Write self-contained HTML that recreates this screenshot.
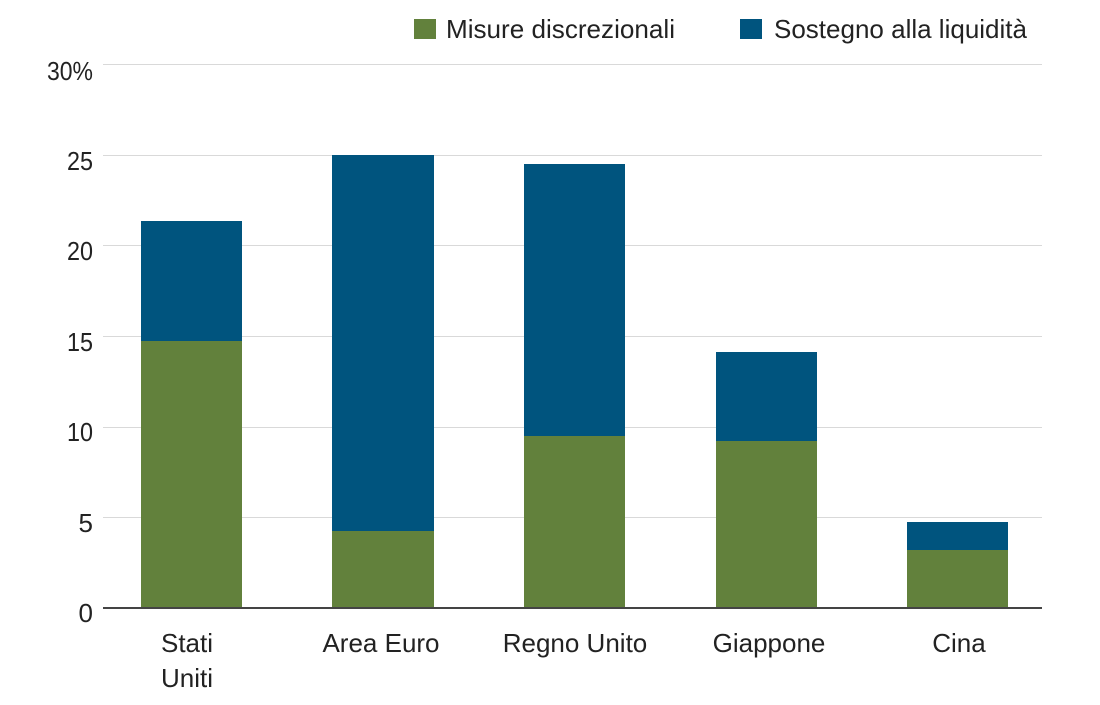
<!DOCTYPE html>
<html><head><meta charset="utf-8"><style>
html,body{margin:0;padding:0;background:#fff;}
svg text{font-family:"Liberation Sans Narrow","Liberation Sans",sans-serif;fill:#222;}
</style></head><body>
<svg width="1100" height="700" viewBox="0 0 1100 700" xmlns="http://www.w3.org/2000/svg">
<rect width="1100" height="700" fill="#fff"/>
<g stroke="#d9d9d9" stroke-width="1">
<line x1="103" y1="64.5" x2="1042" y2="64.5"/>
<line x1="103" y1="155.5" x2="1042" y2="155.5"/>
<line x1="103" y1="245.5" x2="1042" y2="245.5"/>
<line x1="103" y1="336.5" x2="1042" y2="336.5"/>
<line x1="103" y1="427.5" x2="1042" y2="427.5"/>
<line x1="103" y1="517.5" x2="1042" y2="517.5"/>
</g>
<g font-size="26" text-anchor="end" lengthAdjust="spacingAndGlyphs">
<text x="93" y="80" textLength="46" lengthAdjust="spacingAndGlyphs">30%</text>
<text x="93" y="170" textLength="26" lengthAdjust="spacingAndGlyphs">25</text>
<text x="93" y="260" textLength="26" lengthAdjust="spacingAndGlyphs">20</text>
<text x="93" y="351" textLength="26" lengthAdjust="spacingAndGlyphs">15</text>
<text x="93" y="441" textLength="26" lengthAdjust="spacingAndGlyphs">10</text>
<text x="93" y="532">5</text>
<text x="93" y="622">0</text>
</g>
<rect x="141" y="221" width="101" height="120" fill="#00547e"/>
<rect x="141" y="341" width="101" height="267" fill="#62813c"/>
<rect x="332" y="155" width="102" height="376" fill="#00547e"/>
<rect x="332" y="531" width="102" height="77" fill="#62813c"/>
<rect x="524" y="164" width="101" height="272" fill="#00547e"/>
<rect x="524" y="436" width="101" height="172" fill="#62813c"/>
<rect x="716" y="352" width="101" height="89" fill="#00547e"/>
<rect x="716" y="441" width="101" height="167" fill="#62813c"/>
<rect x="907" y="522" width="101" height="28" fill="#00547e"/>
<rect x="907" y="550" width="101" height="58" fill="#62813c"/>
<line x1="103" y1="608" x2="1042" y2="608" stroke="#444" stroke-width="2"/>
<g font-size="26" text-anchor="middle">
<text x="187" y="652">Stati</text>
<text x="187" y="687">Uniti</text>
<text x="381" y="652">Area Euro</text>
<text x="575" y="652">Regno Unito</text>
<text x="769" y="652">Giappone</text>
<text x="959" y="652">Cina</text>
</g>
<rect x="414" y="19" width="22" height="20" fill="#62813c"/>
<text x="446" y="38" font-size="26" textLength="229" lengthAdjust="spacingAndGlyphs" fill="#444">Misure discrezionali</text>
<rect x="740" y="19" width="22" height="20" fill="#00547e"/>
<text x="774" y="38" font-size="26" textLength="253" lengthAdjust="spacingAndGlyphs" fill="#444">Sostegno alla liquidità</text>
</svg>
</body></html>
